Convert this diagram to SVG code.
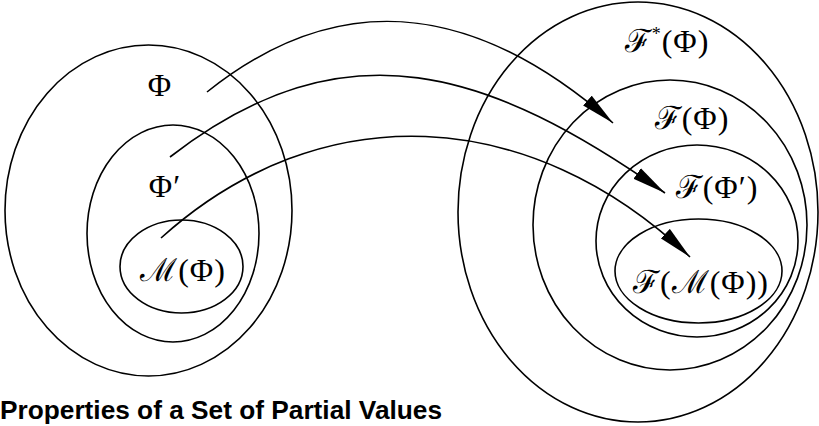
<svg xmlns="http://www.w3.org/2000/svg" width="819" height="426" viewBox="0 0 819 426">
<style>
.set{fill:none;stroke:#000;stroke-width:1.6}
.conn{fill:none;stroke:#000;stroke-width:1.6}
.m{font-family:"Liberation Serif","DejaVu Serif",serif;font-size:32px;fill:#000;text-anchor:middle;letter-spacing:1px}
.title{font-family:"Liberation Sans",Arial,sans-serif;font-weight:bold;font-size:26px;fill:#000}
</style>
<defs>
<marker id="ah" markerUnits="userSpaceOnUse" markerWidth="36" markerHeight="14" refX="34" refY="7" orient="auto">
<path d="M0,0.5 L34,7 L0,13.5 Z" fill="#000"/>
</marker>
</defs>
<rect width="819" height="426" fill="#fff"/>
<g id="phi">
<ellipse class="set" cx="148.5" cy="210.5" rx="143.5" ry="165.5"/>
<text class="m" x="160" y="96">Φ</text>
</g>
<g id="phi-prime">
<ellipse class="set" cx="173" cy="233.5" rx="86" ry="108.5"/>
<text class="m" x="165" y="197">Φ′</text>
</g>
<g id="m-phi">
<ellipse class="set" cx="181.5" cy="266.5" rx="61.5" ry="46.5"/>
<text class="m" x="183" y="281">ℳ(Φ)</text>
</g>
<g id="f-star-phi">
<ellipse class="set" cx="638" cy="212" rx="180" ry="210"/>
<text class="m" x="667" y="52">ℱ<tspan dy="-12" font-size="18">*</tspan><tspan dy="12">(Φ)</tspan></text>
</g>
<g id="f-phi">
<ellipse class="set" cx="670" cy="225" rx="137" ry="145"/>
<text class="m" x="692" y="129">ℱ(Φ)</text>
</g>
<g id="f-phi-prime">
<ellipse class="set" cx="697" cy="241" rx="101" ry="96"/>
<text class="m" x="717" y="198">ℱ(Φ′)</text>
</g>
<g id="f-m-phi">
<ellipse class="set" cx="698.5" cy="271" rx="83.5" ry="52"/>
<text class="m" x="701" y="293">ℱ(ℳ(Φ))</text>
</g>
<g id="connectors">
<path class="conn" marker-end="url(#ah)" d="M207,92 C347,-20 483,9 613,123"/>
<path class="conn" marker-end="url(#ah)" d="M170,157 C346.5,20.5 490,70.5 665,193"/>
<path class="conn" marker-end="url(#ah)" d="M161,238 C321,94 530,105 690,257"/>
</g>
<text class="title" x="0" y="419" textLength="442" lengthAdjust="spacingAndGlyphs">Properties of a Set of Partial Values</text>
</svg>
